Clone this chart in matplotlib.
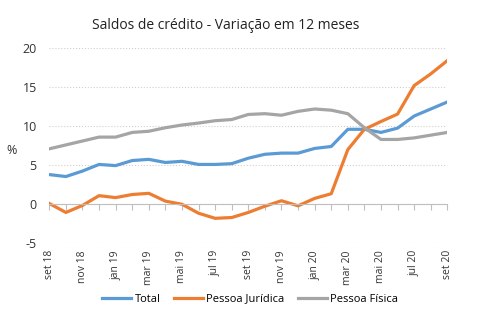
import matplotlib.pyplot as plt
import numpy as np

# monthly data, set/18 .. set/20
months = ['set 18', 'out 18', 'nov 18', 'dez 18', 'jan 19', 'fev 19', 'mar 19',
          'abr 19', 'mai 19', 'jun 19', 'jul 19', 'ago 19', 'set 19', 'out 19',
          'nov 19', 'dez 19', 'jan 20', 'fev 20', 'mar 20', 'abr 20', 'mai 20',
          'jun 20', 'jul 20', 'ago 20', 'set 20']

total = [3.8, 3.55, 4.25, 5.1, 4.95, 5.6, 5.75, 5.35, 5.5, 5.1, 5.1, 5.2, 5.9,
         6.4, 6.55, 6.55, 7.15, 7.4, 9.6, 9.6, 9.2, 9.75, 11.3, 12.2, 13.1]
pj = [0.1, -1.05, -0.15, 1.1, 0.85, 1.25, 1.4, 0.4, 0.0, -1.15, -1.8, -1.7,
      -1.05, -0.25, 0.45, -0.2, 0.75, 1.35, 7.0, 9.6, 10.6, 11.55, 15.2, 16.7, 18.4]
pf = [7.1, 7.6, 8.1, 8.6, 8.6, 9.2, 9.35, 9.8, 10.15, 10.4, 10.7, 10.85, 11.5,
      11.6, 11.4, 11.9, 12.2, 12.05, 11.6, 9.8, 8.3, 8.3, 8.5, 8.85, 9.2]

plt.rcParams['font.family'] = ['Open Sans', 'DejaVu Sans']
plt.rcParams['axes.unicode_minus'] = False

fig = plt.figure(figsize=(4.81, 3.25), dpi=100)
ax = fig.add_axes([0.1025, 0.2514, 0.8275, 0.6006])

x = np.arange(len(months))
ax.plot(x, total, color='#5B9BD5', lw=2.3, label='Total')
ax.plot(x, pj, color='#ED7D31', lw=2.3, label='Pessoa Jurídica')
ax.plot(x, pf, color='#A5A5A5', lw=2.3, label='Pessoa Física')

ax.set_xlim(0, len(months) - 1)
ax.set_ylim(-5, 20)
ax.set_yticks([-5, 0, 5, 10, 15, 20])
ax.yaxis.grid(True, color='#D0D0D0', ls=':', lw=0.8)
ax.set_axisbelow(True)
for s in ['top', 'right', 'left']:
    ax.spines[s].set_visible(False)
ax.spines['bottom'].set_position(('data', 0))
ax.spines['bottom'].set_color('#BFBFBF')
ax.tick_params(axis='y', length=0, labelsize=9, colors='#333333', pad=9)
ax.set_xticks(x)
ax.tick_params(axis='x', length=4, color='#BFBFBF', labelbottom=False)

sec = ax.secondary_xaxis('bottom')
sec.set_xticks(x[::2], months[::2], rotation=90)
sec.tick_params(length=0, labelsize=7.5, colors='#333333', pad=5)
sec.spines['bottom'].set_visible(False)

ax.text(-0.095, 0.475, '%', transform=ax.transAxes, fontsize=9, color='#333333',
        ha='center', va='center')
fig.suptitle('Saldos de crédito - Variação em 12 meses', x=0.47, y=0.945,
             fontsize=10, color='#222222')
fig.legend(loc='center', bbox_to_anchor=(0.52, 0.08), ncol=3, frameon=False,
           fontsize=8, handlelength=2.6, columnspacing=1.2, handletextpad=0.3)

fig.savefig('out.png', dpi=100)
